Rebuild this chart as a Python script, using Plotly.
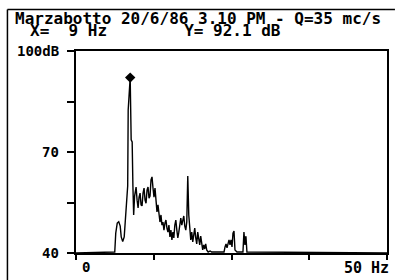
import plotly.graph_objects as go

# Spectrum data (Hz, dB)
freq_hz = [0.0, 6.23, 6.39, 6.63, 6.87, 7.11, 7.27, 7.51, 7.75, 7.91, 8.07, 8.23, 8.31, 8.39,
           8.71, 8.87, 9.03, 9.15, 9.27, 9.42, 9.66, 9.82, 9.98, 10.14, 10.30, 10.46, 10.62,
           10.78, 10.94, 11.10, 11.26, 11.42, 11.58, 11.74, 11.90, 12.06, 12.22, 12.38, 12.54,
           12.70, 12.86, 13.02, 13.18, 13.34, 13.50, 13.66, 13.82, 13.98, 14.14, 14.30, 14.46,
           14.62, 14.78, 14.94, 15.10, 15.26, 15.42, 15.58, 15.73, 15.89, 16.05, 16.21, 16.37,
           16.53, 16.69, 16.85, 17.01, 17.17, 17.33, 17.49, 17.65, 17.81, 17.97, 18.13, 18.29,
           18.45, 18.61, 18.77, 18.93, 19.09, 19.25, 19.41, 19.57, 19.73, 19.89, 20.05, 20.21,
           20.37, 20.53, 20.69, 20.85, 21.01, 21.25, 21.57, 21.81, 23.80, 23.96, 24.12, 24.28,
           24.44, 24.60, 24.76, 24.92, 25.08, 25.24, 25.40, 25.56, 25.88, 26.84, 27.00, 27.16,
           27.32, 27.48, 50.0]
level_db = [40.0, 40.3, 45.9, 48.9, 49.3, 48.0, 44.8, 43.4, 44.8, 49.8, 54.3, 59.3, 59.9, 82.5,
            92.1, 73.6, 73.0, 59.9, 51.3, 56.9, 59.6, 55.7, 53.4, 56.6, 57.8, 54.3, 54.0,
            57.8, 59.3, 55.7, 54.8, 58.7, 59.6, 56.3, 56.9, 61.7, 62.6, 59.3, 56.6,
            59.3, 55.7, 52.2, 54.3, 50.4, 49.2, 51.3, 48.3, 49.2, 46.8, 48.9, 49.8,
            47.4, 46.2, 48.3, 44.8, 46.8, 43.9, 46.2, 44.5, 48.3, 49.8, 46.8, 44.5,
            46.2, 49.2, 50.4, 48.3, 49.8, 51.0, 48.0, 46.8, 49.2, 62.9, 51.3, 45.9,
            43.9, 46.2, 43.3, 45.3, 47.4, 44.5, 42.7, 46.2, 44.5, 42.4, 45.0, 43.0,
            40.9, 42.4, 41.2, 42.7, 40.9, 40.3, 40.6, 40.3, 40.3, 41.8, 42.7, 41.5,
            43.0, 43.9, 42.4, 43.9, 41.8, 45.9, 46.5, 40.9, 40.3, 40.3, 46.2, 42.4,
            45.0, 40.3, 40.0]

peak_hz = [8.71]
peak_db = [92.1]

x_ticks = [0, 12.5, 25, 37.5, 50]
y_ticks = [40, 55, 70, 85, 100]
y_labels = {40: "40", 70: "70", 100: "100dB"}
title_line1 = "Marzabotto 20/6/86 3.10 PM - Q=35 mc/s"
readout = "X=  9 Hz        Y= 92.1 dB"

FONT = "DejaVu Sans Mono"
fig = go.Figure()
fig.add_trace(go.Scatter(x=freq_hz, y=level_db, mode="lines",
                         line=dict(color="black", width=1.4), hoverinfo="skip"))
fig.add_trace(go.Scatter(x=peak_hz, y=peak_db, mode="markers",
                         marker=dict(symbol="diamond", size=8, color="black"), hoverinfo="skip"))

W, H = 397, 280
L, R, T, B = 76, 8, 51, 27
pw, ph = W - L - R, H - T - B

def px(xp):
    return (xp - L) / pw

def py(yp):
    return (H - B - yp) / ph

fig.update_layout(
    width=W, height=H, margin=dict(l=L, r=R, t=T, b=B),
    paper_bgcolor="white", plot_bgcolor="white", showlegend=False,
    font=dict(family=FONT, color="black", size=16),
    xaxis=dict(range=[0, 50], tickvals=x_ticks, showticklabels=False, ticks="outside",
               ticklen=5, tickwidth=1.5, tickcolor="black", showgrid=False, zeroline=False,
               showline=True, linecolor="black", linewidth=1.5, mirror=True),
    yaxis=dict(range=[40, 100], tickvals=y_ticks, showticklabels=False, ticks="outside",
               ticklen=7, tickwidth=1.5, tickcolor="black", showgrid=False, zeroline=False,
               showline=True, linecolor="black", linewidth=2, mirror=True),
)

ann = []
for v, t in y_labels.items():
    ann.append(dict(x=0, xref="paper", y=v, yref="y", text=t, showarrow=False,
                    xanchor="right", yanchor="middle", xshift=-15,
                    font=dict(family=FONT, size=14, weight="bold")))
ann.append(dict(x=0, xref="x", y=0, yref="paper", text="0", showarrow=False,
                xanchor="center", yanchor="top", xshift=10, yshift=-4,
                font=dict(family=FONT, size=14, weight="bold")))
ann.append(dict(x=50, xref="x", y=0, yref="paper", text="50 Hz", showarrow=False,
                xanchor="right", yanchor="top", xshift=4, yshift=-4,
                font=dict(family=FONT, size=15, weight="bold")))
ann.append(dict(x=px(13), xref="paper", y=py(18), yref="paper", text=title_line1,
                showarrow=False, xanchor="left", yanchor="middle",
                font=dict(family=FONT, size=16, weight="bold")))
ann.append(dict(x=px(28), xref="paper", y=py(30.5), yref="paper", text=readout,
                showarrow=False, xanchor="left", yanchor="middle",
                font=dict(family=FONT, size=16, weight="bold")))
fig.update_layout(annotations=ann)

fig.update_layout(shapes=[
    dict(type="line", xref="paper", yref="paper", x0=px(7), x1=px(7), y0=py(280), y1=py(9.5),
         line=dict(color="black", width=1.5)),
    dict(type="line", xref="paper", yref="paper", x0=px(7), x1=px(397), y0=py(9.5), y1=py(9.5),
         line=dict(color="black", width=1.5)),
])

fig.write_html("out.html", config={"displayModeBar": False},
               post_script="document.body.style.margin='0';document.body.style.overflow='hidden';")
